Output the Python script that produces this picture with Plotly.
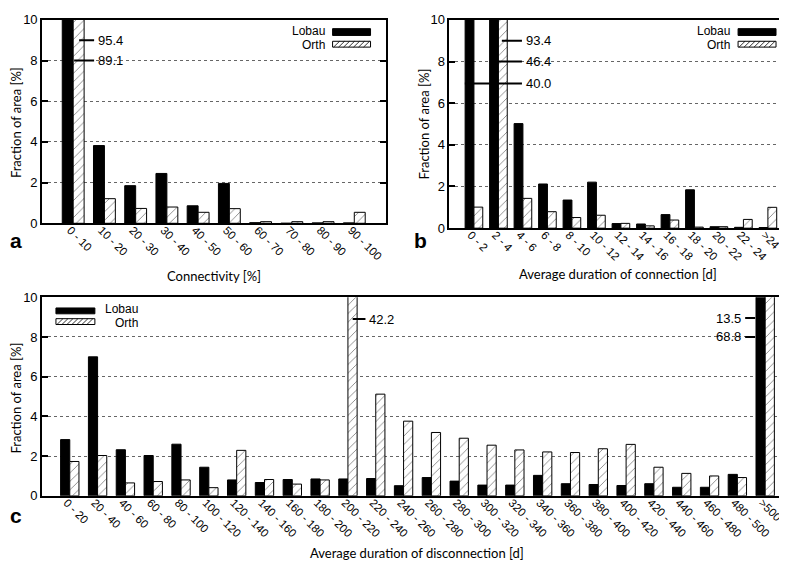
import plotly.graph_objects as go

W, H = 787, 562

# ---------------- data ----------------
cats_a = ["0 - 10", "10 - 20", "20 - 30", "30 - 40", "40 - 50",
          "50 - 60", "60 - 70", "70 - 80", "80 - 90", "90 - 100"]
lobau_a = [89.1, 3.82, 1.85, 2.45, 0.86, 1.96, 0.03, 0.0, 0.02, 0.02]
orth_a = [95.4, 1.21, 0.73, 0.80, 0.54, 0.72, 0.08, 0.08, 0.08, 0.54]

cats_b = ["0 - 2", "2 - 4", "4 - 6", "6 - 8", "8 - 10", "10 - 12", "12 - 14",
          "14 - 16", "16 - 18", "18 - 20", "20 - 22", "22 - 24", ">24"]
lobau_b = [40.0, 46.4, 5.02, 2.12, 1.35, 2.21, 0.22, 0.20, 0.65, 1.84, 0.07, 0.04, 0.03]
orth_b = [1.01, 93.4, 1.43, 0.79, 0.51, 0.62, 0.23, 0.11, 0.39, 0.05, 0.07, 0.42, 1.00]

cats_c = ["0 - 20", "20 - 40", "40 - 60", "60 - 80", "80 - 100", "100 - 120",
          "120 - 140", "140 - 160", "160 - 180", "180 - 200", "200 - 220",
          "220 - 240", "240 - 260", "260 - 280", "280 - 300", "300 - 320",
          "320 - 340", "340 - 360", "360 - 380", "380 - 400", "400 - 420",
          "420 - 440", "440 - 460", "460 - 480", "480 - 500", ">500"]
lobau_c = [2.83, 7.00, 2.32, 2.03, 2.60, 1.44, 0.80, 0.67, 0.82, 0.85, 0.85,
           0.87, 0.51, 0.92, 0.74, 0.54, 0.54, 1.03, 0.61, 0.57, 0.52, 0.61,
           0.43, 0.43, 1.08, 68.8]
orth_c = [1.73, 2.03, 0.65, 0.72, 0.80, 0.41, 2.29, 0.82, 0.59, 0.80, 42.2,
          5.12, 3.76, 3.19, 2.90, 2.55, 2.31, 2.21, 2.18, 2.37, 2.59, 1.44,
          1.13, 1.00, 0.92, 13.5]

y_ticks = [0, 2, 4, 6, 8, 10]

# ---------------- helpers ----------------
def px(x):
    return x / W


def py(y):
    return 1 - y / H


TICKFONT = dict(family="Liberation Sans, Arial, sans-serif", size=13, color="black")
XTICKFONT = dict(family="Liberation Sans, Arial, sans-serif", size=11.5, color="black")
TITLEFONT = dict(family="Lato, Open Sans, sans-serif", size=13, color="black")
LABFONT = dict(family="Liberation Sans, Arial, sans-serif", size=13, color="black")
LEGFONT = dict(family="Liberation Sans, Arial, sans-serif", size=12, color="black")

fig = go.Figure()

panels = [
    # suffix, cats, lobau, orth, bar width, x-domain px, y-domain px, x-range
    ("", cats_a, lobau_a, orth_a, 0.35, (34, 378), (5, 214), (-1, 10)),
    ("2", cats_b, lobau_b, orth_b, 0.36, (442, 780), (5, 219), (-1, 12.78)),
    ("3", cats_c, lobau_c, orth_c, 0.33, (34, 786), (290, 494), (-1, 26)),
]

layout_axes = {}
for suf, cats, lob, ort, bw, xd, yd, xr in panels:
    xs = list(range(len(cats)))
    fig.add_trace(go.Bar(
        x=xs, y=lob, width=bw, offset=-bw, name="Lobau",
        marker=dict(color="black", line=dict(color="black", width=1)),
        xaxis="x" + suf, yaxis="y" + suf, showlegend=False,
    ))
    fig.add_trace(go.Bar(
        x=xs, y=ort, width=bw, offset=0, name="Orth",
        marker=dict(color="white", line=dict(color="black", width=1),
                    pattern=dict(shape="/", fgcolor="#111", bgcolor="white",
                                 size=6, solidity=0.15)),
        xaxis="x" + suf, yaxis="y" + suf, showlegend=False,
    ))
    layout_axes["xaxis" + suf] = dict(
        domain=[px(xd[0]), px(xd[1])], range=list(xr), anchor="y" + suf,
        tickmode="array", tickvals=xs, ticktext=cats, tickangle=45,
        tickfont=XTICKFONT, showline=True, mirror=True, linecolor="black",
        linewidth=1.5, ticks="", showgrid=False, zeroline=False, fixedrange=True,
        ticklabelstandoff=-6, ticklabelshift=-3, ticklabeloverflow="allow",
    )
    layout_axes["yaxis" + suf] = dict(
        domain=[py(yd[1]), py(yd[0])], range=[0, 10], anchor="x" + suf,
        tickmode="array", tickvals=y_ticks, tickfont=TICKFONT,
        showline=True, mirror="ticks", linecolor="black", linewidth=1.5,
        ticks="inside", ticklen=6, tickcolor="black", tickwidth=1.5,
        showgrid=True, gridcolor="#666", griddash="dot", gridwidth=1,
        zeroline=False, fixedrange=True,
    )

fig.update_layout(
    width=W, height=H, margin=dict(l=0, r=0, t=0, b=0),
    paper_bgcolor="white", plot_bgcolor="white", barmode="overlay",
    **layout_axes,
)

shapes = []
annotations = []

# ---------- value callouts for clipped bars ----------
def callout(ax, x0, x1, y, text, side="right"):
    shapes.append(dict(type="line", xref="x" + ax, yref="y" + ax,
                       x0=x0, x1=x1, y0=y, y1=y,
                       line=dict(color="black", width=2)))
    if side == "right":
        annotations.append(dict(xref="x" + ax, yref="y" + ax, x=x1, y=y,
                                text=text, showarrow=False, xanchor="left",
                                xshift=2, font=LABFONT))
    else:
        annotations.append(dict(xref="x" + ax, yref="y" + ax, x=x0, y=y,
                                text=text, showarrow=False, xanchor="right",
                                xshift=-2, font=LABFONT))

callout("", 0.19, 0.67, 9, f"{orth_a[0]:.1f}")
callout("", 0.03, 0.67, 8, f"{lobau_a[0]:.1f}")
callout("2", 1.14, 1.96, 9, f"{orth_b[1]:.1f}")
callout("2", 0.65, 1.96, 8, f"{lobau_b[1]:.1f}")
callout("2", -0.37, 1.96, 6.95, f"{lobau_b[0]:.1f}")
callout("3", 10.17, 10.63, 8.9, f"{orth_c[10]:.1f}")
callout("3", 24.28, 24.64, 8.95, f"{orth_c[25]:.1f}", side="left")
callout("3", 24.28, 24.64, 8.0, f"{lobau_c[25]:.1f}", side="left")

# ---------- legends (drawn as paper shapes) ----------
def hatch_box(x0, x1, y0, y1):
    # y0 top px, y1 bottom px
    shapes.append(dict(type="rect", xref="paper", yref="paper",
                       x0=px(x0), x1=px(x1), y0=py(y1), y1=py(y0),
                       fillcolor="white", line=dict(color="black", width=1)))
    path = ""
    step = 5.0
    h = y1 - y0
    k = x0 + 1
    while k + h <= x1:
        path += f"M{px(k)},{py(y1)} L{px(k + h)},{py(y0)} "
        k += step
    shapes.append(dict(type="path", xref="paper", yref="paper", path=path,
                       line=dict(color="black", width=0.8)))


def solid_box(x0, x1, y0, y1):
    shapes.append(dict(type="rect", xref="paper", yref="paper",
                       x0=px(x0), x1=px(x1), y0=py(y1), y1=py(y0),
                       fillcolor="black", line=dict(color="black", width=1)))


def text_px(x, y, text, xanchor="right", font=LABFONT, **kw):
    annotations.append(dict(xref="paper", yref="paper", x=px(x), y=py(y),
                            text=text, showarrow=False, xanchor=xanchor,
                            yanchor="middle", font=font, borderpad=0, **kw))

# panel a legend
solid_box(325, 363, 14, 21)
hatch_box(325, 363, 27, 33)
text_px(318, 16.5, "Lobau", font=LEGFONT)
text_px(318, 30.5, "Orth", font=LEGFONT)
# panel b legend
solid_box(731, 769, 14, 21)
hatch_box(731, 769, 27, 33)
text_px(724, 16.5, "Lobau", font=LEGFONT)
text_px(724, 30.5, "Orth", font=LEGFONT)
# panel c legend
solid_box(48, 87, 301, 307)
hatch_box(48, 87, 312, 318)
text_px(131, 302.5, "Lobau", font=LEGFONT)
text_px(131, 316.5, "Orth", font=LEGFONT)

# ---------- axis titles ----------
text_px(206, 268, "Connectivity [%]", xanchor="center", font=TITLEFONT)
text_px(611, 266, "Average duration of connection [d]", xanchor="center", font=TITLEFONT)
text_px(410, 553, "Average duration of disconnection [d]", xanchor="center", font=TITLEFONT)
for (x, y) in [(8, 110), (417, 112), (8, 393)]:
    text_px(x, y, "Fraction of area [%]", xanchor="center", font=TITLEFONT,
            textangle=-90)

# ---------- panel letters ----------
LETTERFONT = dict(family="Liberation Sans, Arial, sans-serif", size=21, color="black")
text_px(8, 232, "<b>a</b>", xanchor="center", font=LETTERFONT)
text_px(413, 232, "<b>b</b>", xanchor="center", font=LETTERFONT)
text_px(8, 514, "<b>c</b>", xanchor="center", font=LETTERFONT)

fig.update_layout(shapes=shapes, annotations=annotations)
fig.write_html("out.html")
